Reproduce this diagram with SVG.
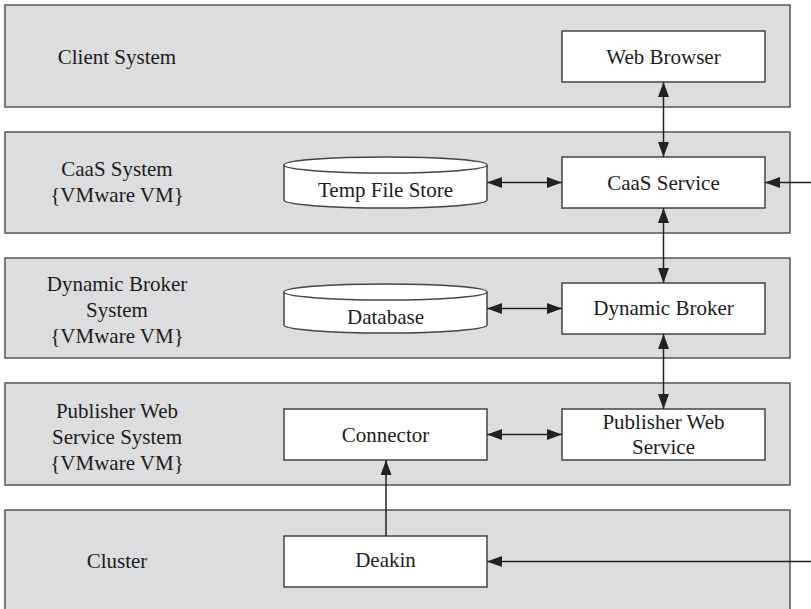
<svg xmlns="http://www.w3.org/2000/svg" width="811" height="609" viewBox="0 0 811 609">
<style>
  .band { fill: #dcdddf; stroke: #555; stroke-width: 1.5; }
  .box { fill: #fff; stroke: #444; stroke-width: 1.5; }
  .t { font-family: "Liberation Serif", "Times New Roman", serif; font-size: 21px; fill: #1e1b1c; text-anchor: middle; }
  .c { stroke: #222; stroke-width: 1.5; fill: none; }
</style>
<defs>
  <marker id="ah" markerUnits="userSpaceOnUse" markerWidth="15" markerHeight="11" refX="15" refY="5.5" orient="auto-start-reverse">
    <path d="M0,0 L15,5.5 L0,11 Z" fill="#222"/>
  </marker>
</defs>
<rect width="811" height="609" fill="#fff"/>

<g id="client-system">
  <rect class="band" x="5" y="5" width="785" height="102"/>
  <text class="t" x="117" y="64">Client System</text>
</g>
<g id="caas-system">
  <rect class="band" x="5" y="132" width="785" height="101"/>
  <text class="t" x="117" y="176">CaaS System</text>
  <text class="t" x="117" y="202">{VMware VM}</text>
</g>
<g id="dynamic-broker-system">
  <rect class="band" x="5" y="258" width="785" height="100"/>
  <text class="t" x="117" y="291">Dynamic Broker</text>
  <text class="t" x="117" y="317">System</text>
  <text class="t" x="117" y="343">{VMware VM}</text>
</g>
<g id="publisher-web-service-system">
  <rect class="band" x="5" y="383" width="785" height="102"/>
  <text class="t" x="117" y="418">Publisher Web</text>
  <text class="t" x="117" y="444">Service System</text>
  <text class="t" x="117" y="470">{VMware VM}</text>
</g>
<g id="cluster">
  <rect class="band" x="5" y="510" width="785" height="103"/>
  <text class="t" x="117" y="568">Cluster</text>
</g>

<g id="web-browser">
  <rect class="box" x="562" y="31" width="203" height="51"/>
  <text class="t" x="663.5" y="64">Web Browser</text>
</g>
<g id="caas-service">
  <rect class="box" x="562" y="157" width="203" height="51"/>
  <text class="t" x="663.5" y="190">CaaS Service</text>
</g>
<g id="temp-file-store">
  <path class="box" d="M284,165 A101.5,8 0 0,1 487,165 L487,200 A101.5,8 0 0,1 284,200 Z"/>
  <path class="box" d="M284,165 A101.5,8 0 0,0 487,165" fill="none"/>
  <text class="t" x="385.5" y="197">Temp File Store</text>
</g>
<g id="dynamic-broker">
  <rect class="box" x="562" y="283" width="203" height="51"/>
  <text class="t" x="663.5" y="315">Dynamic Broker</text>
</g>
<g id="database">
  <path class="box" d="M284,292 A101.5,8 0 0,1 487,292 L487,325 A101.5,8 0 0,1 284,325 Z"/>
  <path class="box" d="M284,292 A101.5,8 0 0,0 487,292" fill="none"/>
  <text class="t" x="385.5" y="324">Database</text>
</g>
<g id="connector">
  <rect class="box" x="284" y="409" width="203" height="51"/>
  <text class="t" x="385.5" y="442">Connector</text>
</g>
<g id="publisher-web-service">
  <rect class="box" x="562" y="409" width="203" height="51"/>
  <text class="t" x="663.5" y="429">Publisher Web</text>
  <text class="t" x="663.5" y="454">Service</text>
</g>
<g id="deakin">
  <rect class="box" x="284" y="536" width="203" height="51"/>
  <text class="t" x="385.5" y="567">Deakin</text>
</g>

<g id="connectors">
  <line class="c" x1="663.5" y1="82" x2="663.5" y2="157" marker-start="url(#ah)" marker-end="url(#ah)"/>
  <line class="c" x1="663.5" y1="208" x2="663.5" y2="283" marker-start="url(#ah)" marker-end="url(#ah)"/>
  <line class="c" x1="663.5" y1="334" x2="663.5" y2="409" marker-start="url(#ah)" marker-end="url(#ah)"/>
  <line class="c" x1="487" y1="182.5" x2="562" y2="182.5" marker-start="url(#ah)" marker-end="url(#ah)"/>
  <line class="c" x1="487" y1="308.5" x2="562" y2="308.5" marker-start="url(#ah)" marker-end="url(#ah)"/>
  <line class="c" x1="487" y1="434.5" x2="562" y2="434.5" marker-start="url(#ah)" marker-end="url(#ah)"/>
  <line class="c" x1="386" y1="536" x2="386" y2="460" marker-end="url(#ah)"/>
  <line class="c" x1="811" y1="182.5" x2="765" y2="182.5" marker-end="url(#ah)"/>
  <line class="c" x1="811" y1="561.5" x2="487" y2="561.5" marker-end="url(#ah)"/>
</g>
</svg>
